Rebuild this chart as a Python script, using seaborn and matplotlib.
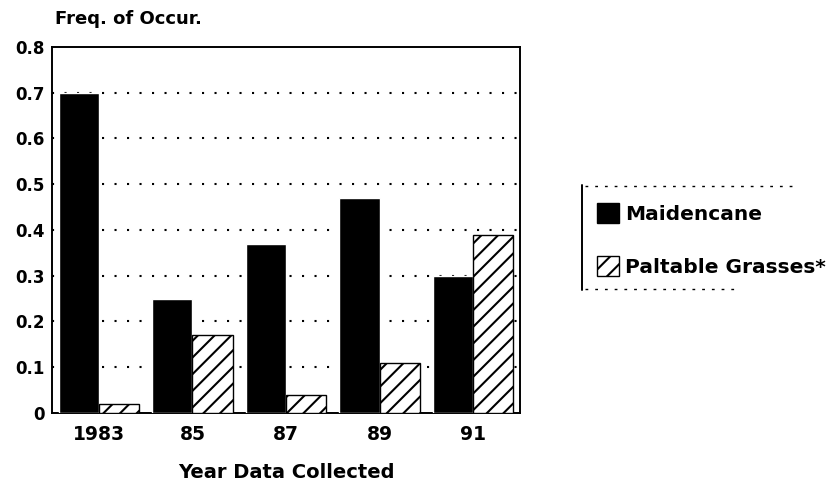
import matplotlib
matplotlib.use("Agg")
import matplotlib.pyplot as plt
from matplotlib.patches import Patch
from matplotlib.lines import Line2D
import seaborn as sns
import pandas as pd

years = ["1983", "85", "87", "89", "91"]
maidencane = [0.70, 0.25, 0.37, 0.47, 0.30]
grasses = [0.02, 0.17, 0.04, 0.11, 0.39]
series = ["Maidencane", "Paltable Grasses*"]
yticks = [0, 0.1, 0.2, 0.3, 0.4, 0.5, 0.6, 0.7, 0.8]
ytick_labels = ["0", "0.1", "0.2", "0.3", "0.4", "0.5", "0.6", "0.7", "0.8"]

df = pd.DataFrame({
    "year": years * 2,
    "series": [series[0]] * len(years) + [series[1]] * len(years),
    "freq": maidencane + grasses,
})

sns.set_style("white")
plt.rcParams["font.family"] = ["DejaVu Sans"]
plt.rcParams["font.weight"] = "bold"
plt.rcParams["text.color"] = "black"
plt.rcParams["xtick.color"] = "black"
plt.rcParams["ytick.color"] = "black"
plt.rcParams["axes.labelcolor"] = "black"
plt.rcParams["hatch.linewidth"] = 1.5

fig = plt.figure(figsize=(8.32, 4.87), dpi=100)
ax = fig.add_axes([0.0625, 0.152, 0.5625, 0.7515])

sns.barplot(data=df, x="year", y="freq", hue="series", order=years,
            hue_order=series, palette=["black", "black"], width=0.86,
            gap=0, errorbar=None, ax=ax, legend=False, zorder=3)

# Second series: white bars with diagonal hatching
for bar in ax.containers[1]:
    bar.set_facecolor("white")
    bar.set_edgecolor("black")
    bar.set_hatch("//")
    bar.set_linewidth(1.0)

ax.set_ylim(0, 0.8)
ax.set_xlim(-0.5, len(years) - 0.5)
ax.set_yticks(yticks)
ax.set_yticklabels(ytick_labels, fontsize=12, fontweight="bold", color="black")
ax.set_xticks(range(len(years)))
ax.set_xticklabels(years, fontsize=13.5, fontweight="bold", color="black")
ax.tick_params(axis="y", length=0, pad=5)
ax.tick_params(axis="x", length=0, pad=9)
ax.set_xlabel("Year Data Collected", fontsize=14, fontweight="bold",
              color="black", labelpad=13)
ax.set_ylabel("")

# Dotted horizontal guides
for y in yticks[1:-1]:
    ax.axhline(y, color="black", linestyle=(0, (1, 5)), linewidth=1.5, zorder=1)

for s in ax.spines.values():
    s.set_visible(True)
    s.set_color("black")
    s.set_linewidth(1.4)

fig.text(0.066, 0.961, "Freq. of Occur.", fontsize=13, fontweight="bold",
         color="black", ha="left", va="center")

handles = [
    Patch(facecolor="black", edgecolor="black", label=series[0]),
    Patch(facecolor="white", edgecolor="black", hatch="//", label=series[1]),
]
leg = fig.legend(handles=handles, loc="center left", bbox_to_anchor=(0.717, 0.507),
                 frameon=False, prop={"weight": "bold", "size": 14.5},
                 handlelength=1.1, handleheight=1.1, handletextpad=0.3,
                 labelspacing=1.6, borderaxespad=0, borderpad=0)
for t in leg.get_texts():
    t.set_color("black")

# Legend frame: solid left edge, dotted top and bottom
fig.add_artist(Line2D([0.7, 0.7], [0.405, 0.62], color="black", linewidth=1.4,
                      transform=fig.transFigure))
fig.add_artist(Line2D([0.703, 0.955], [0.618, 0.618], color="black", linewidth=1.0,
                      linestyle=(0, (2, 5)), transform=fig.transFigure))
fig.add_artist(Line2D([0.703, 0.89], [0.407, 0.407], color="black", linewidth=1.0,
                      linestyle=(0, (2, 5)), transform=fig.transFigure))

fig.savefig("out.png", dpi=100)
